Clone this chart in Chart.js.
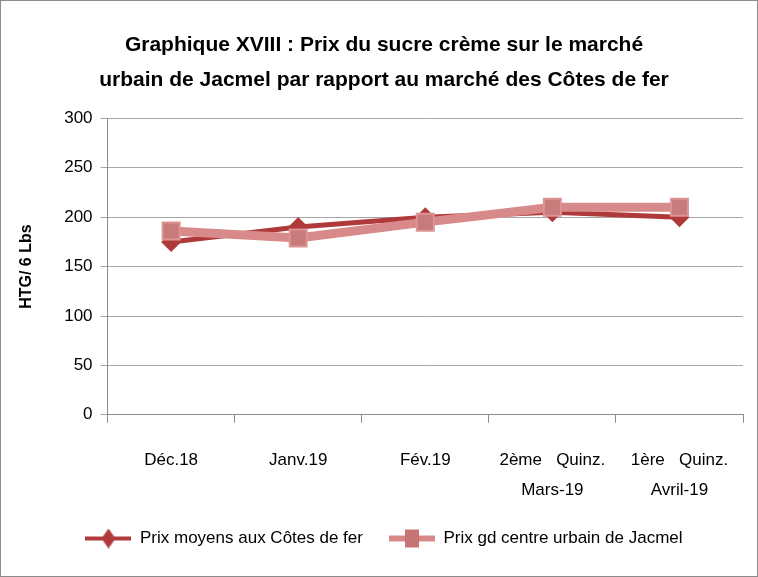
<!DOCTYPE html>
<html lang="fr">
<head>
  <meta charset="UTF-8" />
  <title>Prix du sucre crème</title>
  <script src="https://cdn.jsdelivr.net/npm/chart.js"></script>
  <style>
    html, body { margin: 0; padding: 0; background: #fff; }
    .cadre { width: 756px; height: 575px; border: 1px solid #8c8c8c; position: relative; }
  </style>
</head>
<body>
  <div class="cadre">
    <canvas id="graphique" width="756" height="575"></canvas>
  </div>

  <script>
    const categories = ['Déc.18', 'Janv.19', 'Fév.19', ['2ème   Quinz.', 'Mars-19'], ['1ère   Quinz.', 'Avril-19']];
    const prixCotesDeFer = [175, 190, 200, 205, 200];
    const prixJacmel = [186, 179, 195, 210, 210];
    const ticksY = [0, 50, 100, 150, 200, 250, 300];

    const police = "'Liberation Sans', Arial, sans-serif";
    const rouge = '#b03a3a';
    const rose = '#d88a8a';

    // petites icônes de légende : trait + marqueur
    function iconeLegende(couleur, forme) {
      const c = document.createElement('canvas');
      c.width = 46; c.height = 20;
      const g = c.getContext('2d');
      g.strokeStyle = couleur;
      g.lineWidth = forme === 'carre' ? 6 : 4;
      g.beginPath(); g.moveTo(0, 10); g.lineTo(46, 10); g.stroke();
      g.fillStyle = couleur;
      if (forme === 'carre') {
        g.fillStyle = '#c67575';
        g.fillRect(16, 1, 14, 18);
      } else {
        g.beginPath();
        g.moveTo(23, 0); g.lineTo(30, 10); g.lineTo(23, 20); g.lineTo(16, 10);
        g.closePath(); g.fill();
      }
      return c;
    }

    const ctx = document.getElementById('graphique');
    new Chart(ctx, {
      type: 'line',
      data: {
        labels: categories,
        datasets: [
          {
            label: 'Prix moyens aux Côtes de fer',
            data: prixCotesDeFer,
            borderColor: rouge,
            backgroundColor: rouge,
            borderWidth: 5,
            pointStyle: 'rectRot',
            pointRadius: 10,
            pointHoverRadius: 10,
            pointBorderWidth: 0,
            tension: 0,
            order: 2
          },
          {
            label: 'Prix gd centre urbain de Jacmel',
            data: prixJacmel,
            borderColor: rose,
            backgroundColor: '#c97a7a',
            pointBorderColor: '#dc9494',
            borderWidth: 9,
            pointStyle: 'rect',
            pointRadius: 12,
            pointHoverRadius: 12,
            pointBorderWidth: 2,
            tension: 0,
            order: 1
          }
        ]
      },
      options: {
        responsive: false,
        animation: false,
        layout: { padding: { left: 12, right: 2, top: 10, bottom: 19 } },
        plugins: {
          title: {
            display: true,
            text: ['Graphique XVIII : Prix du sucre crème sur le marché', 'urbain de Jacmel par rapport au marché des Côtes de fer'],
            color: '#000',
            font: { family: police, size: 21, weight: 'bold', lineHeight: 1.7 },
            padding: { top: 16, bottom: 20 }
          },
          legend: {
            position: 'bottom',
            labels: {
              color: '#000',
              font: { family: police, size: 17 },
              usePointStyle: true,
              pointStyleWidth: 46,
              padding: 26,
              generateLabels: function (chart) {
                return chart.data.datasets.map(function (ds, i) {
                  return {
                    text: ds.label,
                    fontColor: '#000',
                    pointStyle: iconeLegende(i === 0 ? rouge : rose, i === 0 ? 'losange' : 'carre'),
                    datasetIndex: i,
                    lineWidth: 0
                  };
                });
              }
            }
          },
          tooltip: { enabled: false }
        },
        scales: {
          x: {
            offset: true,
            afterFit: function (axe) { axe.height -= 24; },
            grid: { display: true, drawOnChartArea: false, offset: true, color: '#8c8c8c', tickLength: 8 },
            border: { color: '#8c8c8c' },
            ticks: { color: '#000', font: { family: police, size: 17, lineHeight: 1.8 }, maxRotation: 0, padding: 22 }
          },
          y: {
            min: 0,
            max: 300,
            afterBuildTicks: function (axis) {
              axis.ticks = ticksY.map(function (v) { return { value: v }; });
            },
            grid: { color: '#a6a6a6', tickLength: 7 },
            border: { color: '#8c8c8c' },
            ticks: { color: '#000', font: { family: police, size: 17 }, padding: 8 },
            title: {
              display: true,
              text: 'HTG/ 6 Lbs',
              color: '#000',
              font: { family: police, size: 16, weight: 'bold' },
              padding: { bottom: 20 }
            }
          }
        }
      }
    });
  </script>
</body>
</html>
